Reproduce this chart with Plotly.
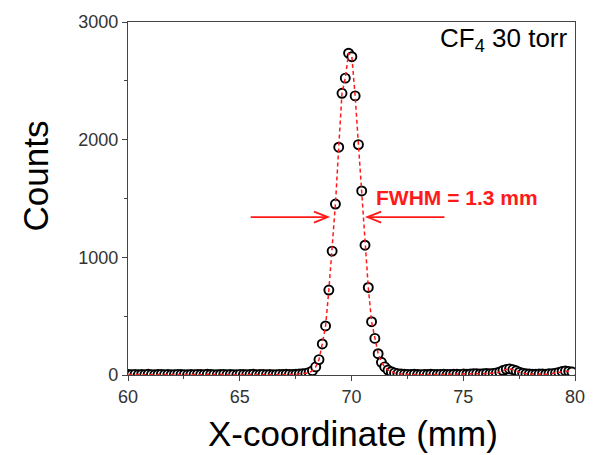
import numpy as np
import plotly.graph_objects as go

# Position scan of the CF4 (30 torr) beam profile
X_START = 60.02      # centre of the first channel, mm
X_STEP = 0.147       # channel pitch, mm

counts = [
    # 60.0 - 67.9 mm
    4, 3, 5, 2, 4, 3, 6, 3, 2, 4, 5, 3, 4, 2, 3, 5, 4, 3, 2, 4,
    3, 5, 4, 3, 6, 4, 3, 2, 4, 5, 3, 4, 3, 2, 5, 4, 3, 4, 6, 3,
    4, 5, 3, 4, 2, 3, 5, 4, 6, 5, 4, 7, 9, 10,
    # 67.9 - 71.8 mm (main peak)
    14, 22, 36, 69, 131, 264, 417, 722, 1053, 1453,
    1936, 2394, 2523, 2735, 2705, 2372, 1958, 1564, 1103, 744,
    453, 311, 181, 108, 69, 42, 28,
    # 71.9 - 75.3 mm
    18, 12, 8, 6, 5, 4, 6, 4, 3, 5, 4, 6, 5, 4, 5, 6, 4, 5, 7, 6,
    5, 8, 7, 9,
    # 75.5 - 77.8 mm
    10, 12, 9, 11, 13, 10, 14, 18, 25, 38, 48, 52, 46, 36, 24, 15, 10,
    # 78.0 - 79.9 mm
    8, 7, 6, 8, 9, 7, 10, 12, 16, 22, 30, 34, 31, 26,
]

x_mm = X_START + X_STEP * np.arange(len(counts))

x_ticks = [60, 65, 70, 75, 80]
y_ticks = [0, 1000, 2000, 3000]

fwhm_mm = 1.3
gas_label = "CF<sub>4</sub> 30 torr"

RED = "#ff1a1a"
FONT = "Arial, Liberation Sans, sans-serif"

fig = go.Figure()

fig.add_trace(go.Scatter(
    x=x_mm, y=counts, mode="markers",
    marker=dict(symbol="circle", size=9, color="white",
                line=dict(width=1.9, color="black")),
    showlegend=False,
))
fig.add_trace(go.Scatter(
    x=x_mm, y=counts, mode="lines",
    line=dict(color=RED, width=1.5, dash="4px,3px"),
    showlegend=False,
))

axis_common = dict(
    showline=True, linecolor="#444", linewidth=1.2, mirror=True,
    ticks="outside", ticklen=5, tickwidth=1, tickcolor="#444",
    showgrid=False, zeroline=False,
    tickfont=dict(family=FONT, size=18, color="#333"),
)

fig.update_xaxes(
    range=[60, 80], tickvals=x_ticks,
    minor=dict(dtick=2.5, ticks="outside", ticklen=3, tickcolor="#444"),
    **axis_common,
)
fig.update_yaxes(
    range=[0, 3000], tickvals=y_ticks,
    minor=dict(dtick=500, ticks="outside", ticklen=3, tickcolor="#444"),
    **axis_common,
)

# FWHM arrows (open V heads), in data coordinates
arrow_y = 1342
head_dx, head_dy = 0.62, 47
left_tail, left_tip = 65.49, 68.94
right_tail, right_tip = 74.16, 70.71
arrow_line = dict(color=RED, width=1.8)
for tail, tip, sgn in [(left_tail, left_tip, 1), (right_tail, right_tip, -1)]:
    fig.add_shape(type="line", xref="x", yref="y",
                  x0=tail, y0=arrow_y, x1=tip, y1=arrow_y, line=arrow_line)
    fig.add_shape(type="path", xref="x", yref="y",
                  path=(f"M {tip - sgn * head_dx} {arrow_y + head_dy} "
                        f"L {tip} {arrow_y} "
                        f"L {tip - sgn * head_dx} {arrow_y - head_dy}"),
                  line=arrow_line)

fig.add_annotation(
    x=71.02, y=1508, xref="x", yref="y", xanchor="left", yanchor="middle",
    text=f"<b>FWHM = {fwhm_mm} mm</b>", showarrow=False,
    font=dict(family=FONT, size=21, color=RED),
)
fig.add_annotation(
    x=0.988, y=0.951, xref="paper", yref="paper", xanchor="right", yanchor="middle",
    text=gas_label, showarrow=False,
    font=dict(family=FONT, size=26, color="black"),
)
fig.add_annotation(
    x=-0.206, y=0.565, xref="paper", yref="paper", xanchor="center", yanchor="middle",
    text="Counts", textangle=-90, showarrow=False,
    font=dict(family=FONT, size=35, color="black"),
)
fig.add_annotation(
    x=0.504, y=-0.167, xref="paper", yref="paper", xanchor="center", yanchor="middle",
    text="X-coordinate (mm)", showarrow=False,
    font=dict(family=FONT, size=35, color="black"),
)

fig.update_layout(
    width=597, height=455,
    margin=dict(l=128, r=17, t=15, b=80),
    paper_bgcolor="white", plot_bgcolor="white",
    font=dict(family=FONT),
)

fig.write_html("out.html")
